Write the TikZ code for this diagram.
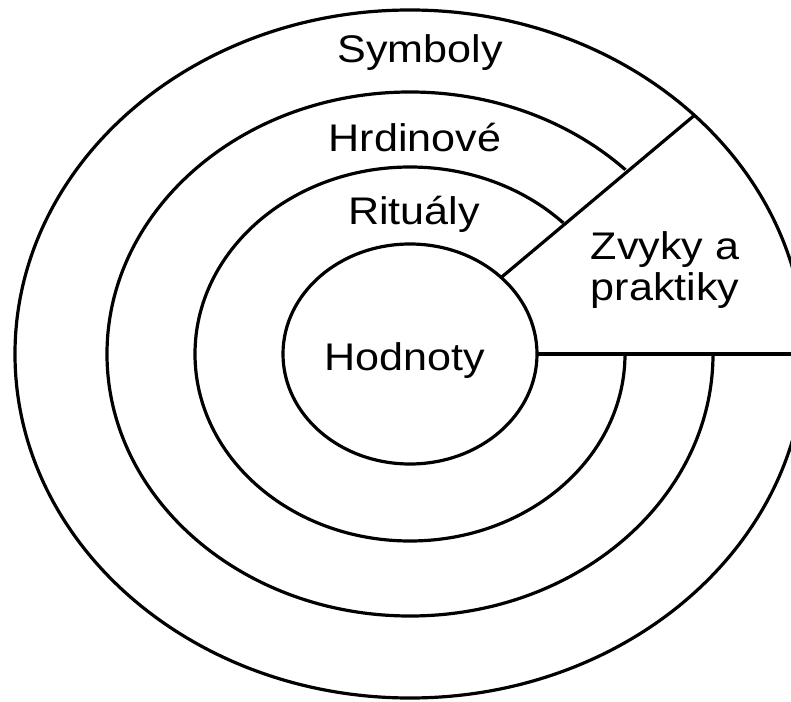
\documentclass[tikz,border=0pt]{standalone}
\usepackage{fontspec}
\setmainfont{Liberation Sans}[FakeStretch=1.12]
\usetikzlibrary{shapes.geometric}
\begin{document}
\begin{tikzpicture}[x=1pt, y=1pt,
        ring/.style={ellipse, draw=black, line width=3.2pt, inner sep=0pt, outer sep=0pt},
        lbl/.style={anchor=base, font=\fontsize{38.5}{42}\selectfont}]
            \clip (-410,-347) rectangle (381,354);

            \node[ring, minimum width=606, minimum height=524] (hrd) at (0,0) {};
            \node[ring, minimum width=430, minimum height=374] (rit) at (0,0) {};
            % cut the wedge out of the middle rings
            \fill[white] (0,0) -- (420,0) -- (40.5:600) -- cycle;

            \node[ring, minimum width=790, minimum height=688] (symb) at (0,0) {};
            \node[ring, fill=white, minimum width=254, minimum height=220] (hod) at (0,0) {};

            \draw[line width=3.2pt] (hod.40.5) -- (symb.40.5);
            \draw[line width=3.2pt] (hod.east) -- (symb.east);

            \node[lbl] (symbl) at (10,291) {Symboly};
            \node[lbl] (hrdl) at (5,202) {Hrdinové};
            \node[lbl] (ritl) at (4,129) {Rituály};
            \node[lbl] (hodl) at (-5,-16) {Hodnoty};
            \node[lbl] (zvyky) at (255,94) {Zvyky a};
            \node[lbl] (prakt) at (255,53) {praktiky};
        \end{tikzpicture}
\end{document}
